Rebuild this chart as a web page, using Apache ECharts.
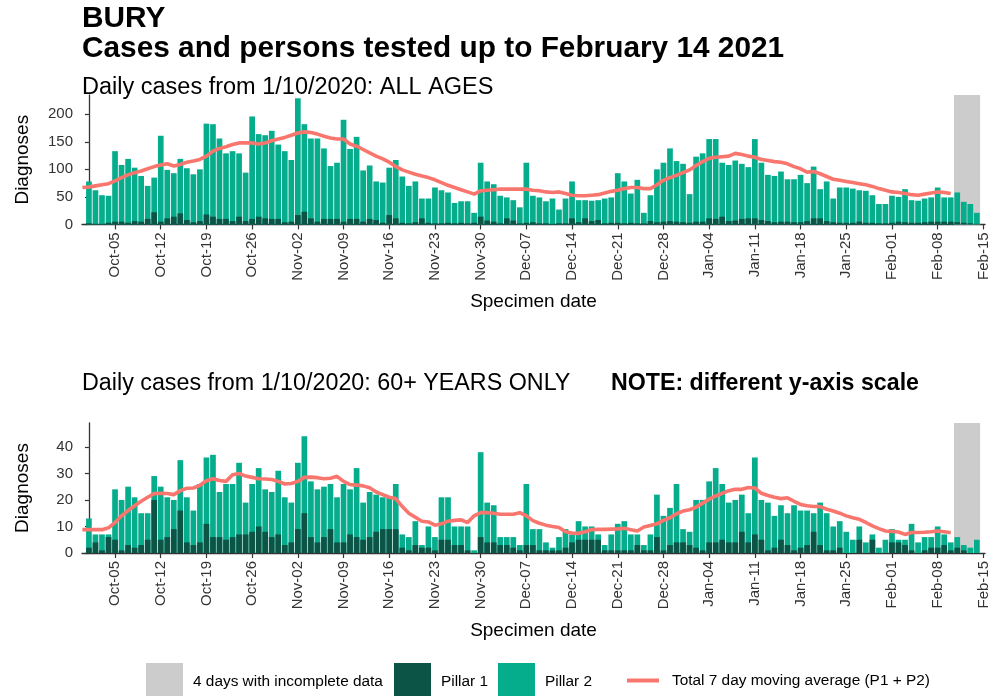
<!DOCTYPE html>
<html>
<head>
<meta charset="utf-8">
<script src="https://cdn.jsdelivr.net/npm/echarts@6/dist/echarts.min.js"></script>
<style>
  html, body { margin: 0; padding: 0; background: #fff; }
  #chart { width: 989px; height: 696px; }
</style>
</head>
<body>
<div id="chart"></div>
<script>
// Day numbers are counted from 1 October 2020 (day 0).
const tickDays = [4, 11, 18, 25, 32, 39, 46, 53, 60, 67, 74, 81, 88, 95, 102, 109, 116, 123, 130, 137];
const tickLabels = ['Oct-05', 'Oct-12', 'Oct-19', 'Oct-26', 'Nov-02', 'Nov-09', 'Nov-16', 'Nov-23', 'Nov-30',
  'Dec-07', 'Dec-14', 'Dec-21', 'Dec-28', 'Jan-04', 'Jan-11', 'Jan-18', 'Jan-25', 'Feb-01', 'Feb-08', 'Feb-15'];

// Specimen dates whose counts are still incomplete (11-14 Feb 2021)
const incompleteDays = [133, 134, 135, 136];

// All ages: daily cases by pillar, 1 Oct 2020 - 14 Feb 2021
const allPillar1 = [2, 1, 1, 3, 5, 5, 3, 6, 5, 10, 22, 5, 11, 14, 20, 8, 4, 6, 18, 14,
  10, 10, 6, 14, 6, 10, 14, 11, 10, 10, 4, 5, 17, 23, 11, 5, 10, 10, 10, 5,
  10, 10, 5, 10, 8, 3, 17, 11, 3, 2, 4, 11, 3, 2, 2, 3, 2, 3, 2, 3,
  14, 7, 5, 2, 11, 7, 2, 3, 4, 2, 2, 1, 2, 2, 11, 4, 11, 6, 8, 2,
  3, 3, 2, 3, 2, 2, 6, 4, 5, 6, 5, 4, 3, 5, 5, 11, 10, 14, 6, 7,
  10, 11, 11, 8, 6, 4, 5, 5, 4, 4, 6, 11, 11, 6, 4, 3, 3, 3, 5, 3,
  3, 2, 2, 3, 5, 4, 3, 3, 4, 5, 5, 5, 5, 4, 3, 2, 1];
const allPillar2 = [76, 61, 52, 49, 128, 103, 116, 97, 83, 60, 63, 156, 88, 79, 99, 94, 87, 94, 165, 168,
  146, 119, 127, 115, 88, 186, 150, 151, 160, 135, 129, 112, 212, 159, 145, 151, 128, 96, 102, 185,
  127, 149, 93, 97, 70, 73, 86, 106, 84, 68, 74, 36, 44, 65, 60, 55, 37, 39, 40, 18,
  98, 71, 68, 50, 38, 37, 29, 109, 48, 47, 40, 46, 25, 45, 67, 40, 33, 37, 36, 45,
  46, 90, 76, 53, 79, 19, 47, 96, 107, 132, 110, 106, 52, 118, 124, 144, 145, 98, 102, 109,
  100, 93, 144, 104, 84, 84, 91, 77, 78, 86, 69, 94, 53, 72, 43, 64, 64, 62, 57, 58,
  50, 35, 35, 49, 45, 60, 41, 40, 43, 44, 62, 44, 44, 54, 38, 35, 20];
// Total 7 day moving average, 30 Sep 2020 - 10 Feb 2021
const allAverage = [67, 68, 70, 72, 74, 79, 85, 90, 94, 97, 101, 105, 108, 110, 106, 109, 113, 115, 118, 124,
  133, 138, 141, 145, 148, 148, 148, 146, 148, 152, 155, 158, 162, 166, 168, 167, 164, 160, 157, 155,
  155, 146, 142, 136, 130, 124, 119, 113, 105, 99, 95, 91, 88, 85, 81, 76, 71, 67, 63, 59,
  55, 61, 62, 63, 64, 64, 64, 64, 64, 62, 61, 59, 58, 59, 56, 53, 52, 52, 53, 54,
  57, 60, 62, 65, 67, 67, 65, 65, 72, 80, 85, 89, 94, 99, 107, 114, 120, 122, 123, 124,
  129, 127, 124, 122, 118, 116, 114, 113, 110, 105, 101, 95, 96, 92, 87, 82, 80, 78, 76, 74,
  72, 69, 65, 62, 59, 58, 56, 54, 53, 55, 57, 59, 58, 56];

// 60+ years: daily cases by pillar
const oldPillar1 = [2, 4, 1, 6, 5, 1, 3, 2, 3, 5, 20, 5, 6, 9, 16, 4, 3, 4, 11, 6,
  6, 5, 6, 7, 7, 8, 10, 8, 6, 7, 3, 4, 9, 15, 6, 4, 6, 9, 4, 4,
  7, 6, 5, 6, 8, 9, 9, 9, 2, 1, 3, 2, 2, 1, 5, 5, 3, 3, 1, 0,
  6, 4, 4, 3, 3, 2, 1, 3, 3, 1, 1, 1, 1, 2, 4, 5, 5, 5, 5, 1,
  1, 1, 1, 1, 3, 1, 1, 6, 1, 3, 4, 4, 3, 2, 1, 4, 4, 5, 4, 4,
  8, 4, 7, 5, 1, 2, 5, 3, 1, 2, 3, 8, 3, 1, 1, 2, 0, 0, 5, 0,
  5, 0, 0, 4, 4, 3, 1, 0, 1, 2, 2, 3, 1, 2, 1, 0, 0];
const oldPillar2 = [11, 3, 6, 1, 19, 19, 22, 19, 12, 10, 9, 20, 15, 11, 19, 17, 13, 22, 25, 31,
  17, 21, 20, 27, 12, 18, 22, 16, 17, 24, 18, 15, 25, 29, 21, 20, 19, 17, 17, 22,
  17, 26, 14, 17, 14, 12, 12, 17, 5, 5, 9, 1, 8, 5, 16, 16, 7, 7, 9, 1,
  32, 15, 14, 3, 3, 4, 2, 23, 6, 8, 3, 1, 5, 7, 3, 7, 5, 5, 2, 2,
  6, 10, 11, 6, 4, 2, 6, 16, 13, 14, 22, 5, 5, 18, 19, 23, 28, 21, 15, 16,
  14, 11, 29, 15, 18, 12, 13, 12, 17, 14, 13, 7, 16, 14, 9, 10, 8, 5, 5, 4,
  2, 2, 5, 5, 1, 2, 10, 4, 5, 4, 8, 4, 3, 4, 2, 2, 5];
const oldAverage = [8.8, 8.8, 8.8, 8.8, 9.5, 11.5, 14, 16, 17.8, 19.5, 21, 22.4, 22.5, 22.4, 22, 23.5, 24.4, 24.5, 25.5, 27.2,
  28, 27.3, 27, 29.5, 30, 29, 28.5, 28, 27.9, 27.7, 27, 26, 26.2, 27, 28.5, 28.6, 28.4, 28, 28.2, 28.9,
  27, 25.8, 25.6, 25.3, 24.6, 23, 22, 21, 20.5, 17.5, 15, 13.5, 12, 11.7, 10.5, 11, 12, 12.3, 12.5, 11.5,
  14, 15.2, 15.2, 15, 14.6, 14.6, 14.6, 15.2, 14, 12.2, 11.2, 10.5, 10, 9.6, 8, 7.5, 7.4, 8, 8.8, 8.9,
  8.9, 9, 9.1, 9.3, 8.8, 8.3, 9.8, 10.4, 11, 12.3, 13.3, 14.8, 15.8, 16.3, 17.3, 18.8, 20.3, 21.5, 22.5, 23.5,
  24, 24, 24.7, 24.5, 22.5, 21.7, 21, 20.5, 20.8, 19.5, 18.3, 17.8, 17.5, 17.5, 16.5, 15.8, 15, 14, 13.3, 12.7,
  11.5, 10.2, 9.2, 8.3, 8.1, 7.9, 7, 7.7, 7.7, 7.8, 8, 8.3, 8, 7.6];
const averageStartDay = -1;

const allTicks = [0, 50, 100, 150, 200];
const oldTicks = [0, 10, 20, 30, 40];

const FONT = '"Liberation Sans", Arial, Helvetica, sans-serif';
const C_P1 = '#0b5446';
const C_P2 = '#05ad8d';
const C_AVG = '#f8766d';
const C_GREY = '#cccccc';
const C_AXIS = '#333333';

const pairs = (vals, start) => vals.map((v, i) => [start + i, v]);
// Pillar 2 sits on top of Pillar 1: its column reaches P1 + P2
const stackedTop = (p1, p2) => p1.map((v, i) => [i, v + p2[i]]);

function xAxisFor(gridIndex) {
  return {
    type: 'value', gridIndex, min: -1.06, max: 137.25,
    axisLine: { show: true, lineStyle: { color: C_AXIS, width: 1.3 } },
    axisTick: { show: true, length: 5, customValues: tickDays, lineStyle: { color: C_AXIS, width: 1.2 } },
    axisLabel: {
      show: true, rotate: 90, margin: 8, customValues: tickDays,
      formatter: v => tickLabels[tickDays.indexOf(v)] || '',
      fontFamily: FONT, fontSize: 15, color: '#333'
    },
    splitLine: { show: false },
    name: 'Specimen date', nameLocation: 'middle', nameGap: 68,
    nameTextStyle: { fontFamily: FONT, fontSize: 19, color: '#000' }
  };
}

function yAxisFor(gridIndex, max, ticks) {
  return {
    type: 'value', gridIndex, min: 0, max,
    axisLine: { show: true, lineStyle: { color: C_AXIS, width: 1.3 } },
    axisTick: { show: true, length: 4, customValues: ticks, lineStyle: { color: C_AXIS, width: 1.2 } },
    axisLabel: { show: true, margin: 9, customValues: ticks, fontFamily: FONT, fontSize: 15, color: '#333' },
    splitLine: { show: false },
    name: 'Diagnoses', nameLocation: 'middle', nameGap: 50,
    nameTextStyle: { fontFamily: FONT, fontSize: 19, color: '#000' }
  };
}

function incompleteBand(idx, yMax) {
  return {
    name: '4 days with incomplete data', type: 'custom', xAxisIndex: idx, yAxisIndex: idx, z: 1,
    itemStyle: { color: C_GREY }, silent: true,
    data: [[Math.min(...incompleteDays), Math.max(...incompleteDays)]],
    renderItem(params, api) {
      const a = api.coord([api.value(0) - 0.5, yMax]);
      const b = api.coord([api.value(1) + 0.5, 0]);
      return { type: 'rect', shape: { x: a[0], y: a[1], width: b[0] - a[0], height: b[1] - a[1] },
               style: { fill: C_GREY } };
    }
  };
}

function panelSeries(idx, p1, p2, avg, yMax) {
  return [
    incompleteBand(idx, yMax),
    { name: 'Pillar 2', type: 'bar', xAxisIndex: idx, yAxisIndex: idx, barGap: '-100%',
      barWidth: 5.7, itemStyle: { color: C_P2 }, data: stackedTop(p1, p2), z: 2 },
    { name: 'Pillar 1', type: 'bar', xAxisIndex: idx, yAxisIndex: idx, barGap: '-100%',
      barWidth: 5.7, itemStyle: { color: C_P1 }, data: pairs(p1, 0), z: 2 },
    { name: 'Total 7 day moving average (P1 + P2)', type: 'line', xAxisIndex: idx, yAxisIndex: idx,
      symbol: 'none', z: 3, lineStyle: { color: C_AVG, width: 3.6 }, itemStyle: { color: C_AVG },
      data: pairs(avg, averageStartDay) }
  ];
}

function legendItem(name, left, top, w, h, textPad) {
  return {
    left, top, padding: 0, itemWidth: w, itemHeight: h, selectedMode: false,
    data: [{ name, icon: 'rect' }],
    textStyle: { fontFamily: FONT, fontSize: 15.4, color: '#000', padding: [0, 0, 0, textPad] }
  };
}

const chart = echarts.init(document.getElementById('chart'), null, { renderer: 'canvas' });
chart.setOption({
  animation: false,
  backgroundColor: '#fff',
  title: [
    { text: 'BURY', left: 82, top: 4, padding: 0,
      textStyle: { fontFamily: FONT, fontSize: 29.8, fontWeight: 'bold', color: '#000', lineHeight: 30 } },
    { text: 'Cases and persons tested up to February 14 2021', left: 82, top: 34, padding: 0,
      textStyle: { fontFamily: FONT, fontSize: 29.8, fontWeight: 'bold', color: '#000', lineHeight: 30 } },
    { text: 'Daily cases from 1/10/2020: ALL AGES', left: 82, top: 76, padding: 0,
      textStyle: { fontFamily: FONT, fontSize: 23.5, fontWeight: 'normal', color: '#000', lineHeight: 23 } },
    { text: 'Daily cases from 1/10/2020: 60+ YEARS ONLY', left: 82, top: 372, padding: 0,
      textStyle: { fontFamily: FONT, fontSize: 23.3, fontWeight: 'normal', color: '#000', lineHeight: 23 } },
    { text: 'NOTE: different y-axis scale', left: 611, top: 372, padding: 0,
      textStyle: { fontFamily: FONT, fontSize: 23.2, fontWeight: 'bold', color: '#000', lineHeight: 23 } }
  ],
  grid: [
    { left: 82, top: 95, width: 903, height: 129.4, outerBoundsMode: 'none' },
    { left: 82, top: 423, width: 903, height: 130, outerBoundsMode: 'none' }
  ],
  xAxis: [xAxisFor(0), xAxisFor(1)],
  yAxis: [yAxisFor(0, 235, allTicks), yAxisFor(1, 49, oldTicks)],
  legend: [
    legendItem('4 days with incomplete data', 146, 663, 37, 37, 5),
    legendItem('Pillar 1', 394, 663, 37, 37, 5),
    legendItem('Pillar 2', 498, 663, 37, 37, 5),
    legendItem('Total 7 day moving average (P1 + P2)', 627, 673, 32, 4, 8)
  ],
  series: [
    ...panelSeries(0, allPillar1, allPillar2, allAverage, 235),
    ...panelSeries(1, oldPillar1, oldPillar2, oldAverage, 49)
  ]
});
</script>
</body>
</html>
